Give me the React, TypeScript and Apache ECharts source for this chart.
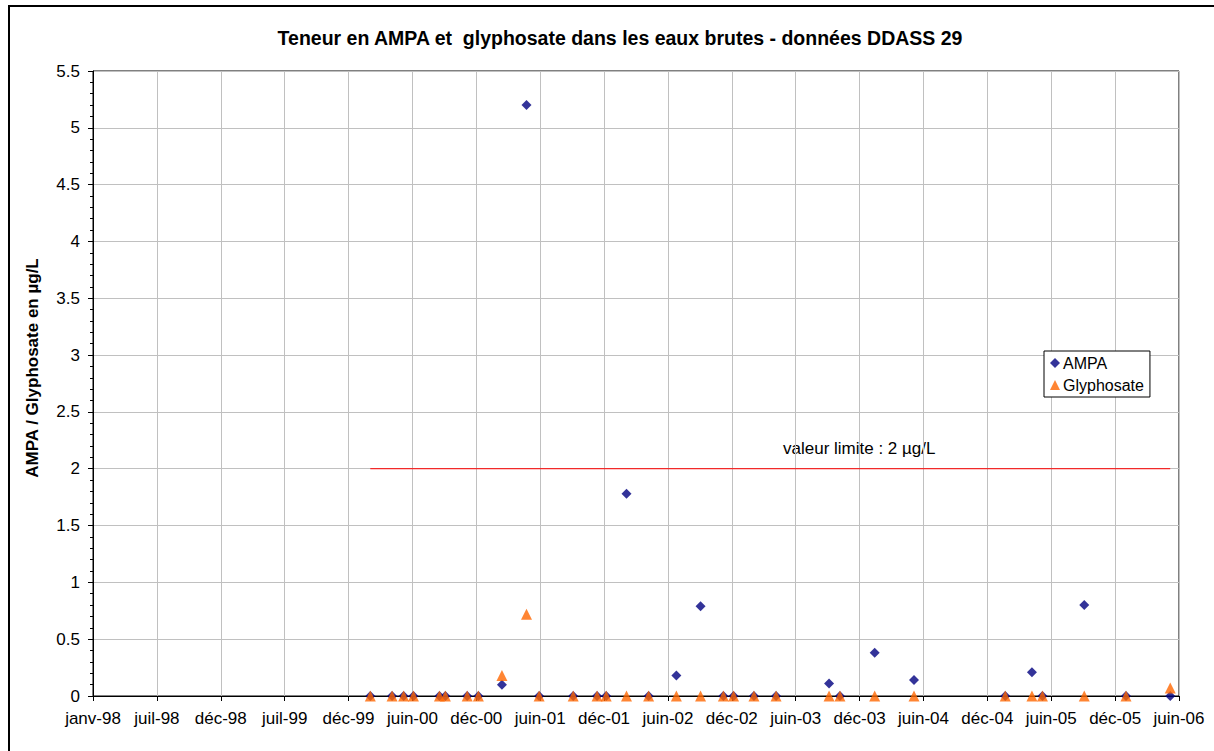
import React, { useEffect, useRef } from "react";
import * as echarts from "echarts";

const BASE = Date.UTC(1998, 0, 1);
const DAY = 86400000;
const toDay = (s: string) => {
  const [y, m, d] = s.split("-").map(Number);
  return Math.round((Date.UTC(y, m - 1, d) - BASE) / DAY);
};

const sampleDates = [
  "2000-03-01", "2000-05-02", "2000-06-04", "2000-07-02", "2000-09-14", "2000-10-01",
  "2000-12-02", "2001-01-03", "2001-03-11", "2001-05-20", "2001-06-25", "2001-09-30",
  "2001-12-07", "2002-01-02", "2002-03-01", "2002-05-03", "2002-07-21", "2002-09-28",
  "2002-12-02", "2002-12-31", "2003-02-27", "2003-05-01", "2003-09-29", "2003-10-30",
  "2004-02-06", "2004-05-28", "2005-02-12", "2005-04-29", "2005-05-29", "2005-09-25",
  "2006-01-22", "2006-05-28",
];
const ampa = [
  0, 0, 0, 0, 0, 0, 0, 0, 0.1, 5.2, 0, 0, 0, 0, 1.78, 0, 0.18, 0.79, 0, 0, 0, 0, 0.11, 0,
  0.38, 0.14, 0, 0.21, 0, 0.8, 0, 0,
];
const glyphosate = [
  0, 0, 0, 0, 0, 0, 0, 0, 0.18, 0.72, 0, 0, 0, 0, 0, 0, 0, 0, 0, 0, 0, 0, 0, 0, 0, 0, 0,
  0, 0, 0, 0, 0.07,
];
const limitDates = ["2000-03-01", "2006-05-28"];
const limitValue = 2;
const frenchMonths = ["janv", "févr", "mars", "avr", "mai", "juin", "juil", "août", "sept", "oct", "nov", "déc"];

const xMin = 0;
const xInterval = 182;
const xMax = 3094;

export default function App() {
  const ref = useRef<HTMLDivElement>(null);
  useEffect(() => {
    const chart = echarts.init(ref.current!, null, { renderer: "svg" });
    const font = "Arial, 'Liberation Sans', sans-serif";
    chart.setOption({
      animation: false,
      backgroundColor: "#ffffff",
      textStyle: { fontFamily: font },
      grid: {
        left: 93,
        top: 71,
        right: 35,
        bottom: 55,
        show: true,
        borderColor: "#000",
        borderWidth: 1,
        containLabel: false,
      },
      legend: {
        orient: "vertical",
        left: 1044,
        top: 351,
        padding: [4, 6, 4, 6],
        itemGap: 6,
        itemWidth: 10,
        itemHeight: 10,
        borderColor: "#000",
        borderWidth: 1,
        borderRadius: 0,
        backgroundColor: "#fff",
        textStyle: { fontFamily: font, fontSize: 16, color: "#000", padding: [0, 0, 0, -2] },
        data: [
          { name: "AMPA", icon: "diamond" },
          { name: "Glyphosate", icon: "triangle" },
        ],
      },
      xAxis: {
        type: "value",
        min: xMin,
        max: xMax,
        interval: xInterval,
        axisLine: { lineStyle: { color: "#000", width: 1 } },
        axisTick: { show: true, length: 5, lineStyle: { color: "#000" } },
        splitLine: { show: true, lineStyle: { color: "#c0c0c0", width: 1 } },
        axisLabel: {
          color: "#000",
          fontSize: 17,
          fontFamily: font,
          margin: 14,
          showMinLabel: true,
          showMaxLabel: true,
          hideOverlap: false,
          formatter: (v: number) => {
            const d = new Date(BASE + v * DAY);
            return frenchMonths[d.getUTCMonth()] + "-" + String(d.getUTCFullYear()).slice(2);
          },
        },
      },
      yAxis: {
        type: "value",
        min: 0,
        max: 5.5,
        interval: 0.5,
        axisLine: { show: true, lineStyle: { color: "#000", width: 1 } },
        axisTick: { show: true, length: 5, lineStyle: { color: "#000" } },
        minorTick: { show: true, splitNumber: 5, length: 3, lineStyle: { color: "#000" } },
        splitLine: { show: true, lineStyle: { color: "#c0c0c0", width: 1 } },
        axisLabel: {
          color: "#000",
          fontSize: 17,
          fontFamily: font,
          margin: 13,
          formatter: (v: number) => String(v),
        },
      },
      graphic: [
        {
          type: "rect",
          silent: true,
          shape: { x: 9, y: 6, width: 1230, height: 770 },
          style: { fill: "none", stroke: "#000", lineWidth: 2 },
        },
        {
          type: "text",
          x: 620,
          y: 38,
          style: {
            text: "Teneur en AMPA et  glyphosate dans les eaux brutes - données DDASS 29",
            fontFamily: font,
            fontSize: 19.5,
            fontWeight: "bold",
            fill: "#000",
            textAlign: "center",
            textVerticalAlign: "middle",
          },
        },
        {
          type: "text",
          x: 32,
          y: 368,
          rotation: Math.PI / 2,
          style: {
            text: "AMPA / Glyphosate en µg/L",
            fontFamily: font,
            fontSize: 17,
            fontWeight: "bold",
            fill: "#000",
            textAlign: "center",
            textVerticalAlign: "middle",
          },
        },
        {
          type: "text",
          x: 783,
          y: 448,
          style: {
            text: "valeur limite : 2 µg/L",
            fontFamily: font,
            fontSize: 17,
            fill: "#000",
            textAlign: "left",
            textVerticalAlign: "middle",
          },
        },
      ],
      series: [
        {
          name: "limite",
          type: "line",
          data: limitDates.map((d) => [toDay(d), limitValue]),
          symbol: "none",
          lineStyle: { color: "#ff0000", width: 1 },
          silent: true,
          z: 1,
        },
        {
          name: "AMPA",
          type: "scatter",
          symbol: "diamond",
          symbolSize: 10,
          itemStyle: { color: "#000080" },
          data: sampleDates.map((d, i) => [toDay(d), ampa[i]]),
          z: 3,
        },
        {
          name: "Glyphosate",
          type: "scatter",
          symbol: "triangle",
          symbolSize: 11,
          itemStyle: { color: "#ff6600" },
          data: sampleDates.map((d, i) => [toDay(d), glyphosate[i]]),
          z: 4,
        },
      ],
    });
    return () => chart.dispose();
  }, []);
  return (
    <div
      ref={ref}
      style={{ position: "absolute", left: 0, top: 0, width: 1214, height: 751 }}
    />
  );
}
